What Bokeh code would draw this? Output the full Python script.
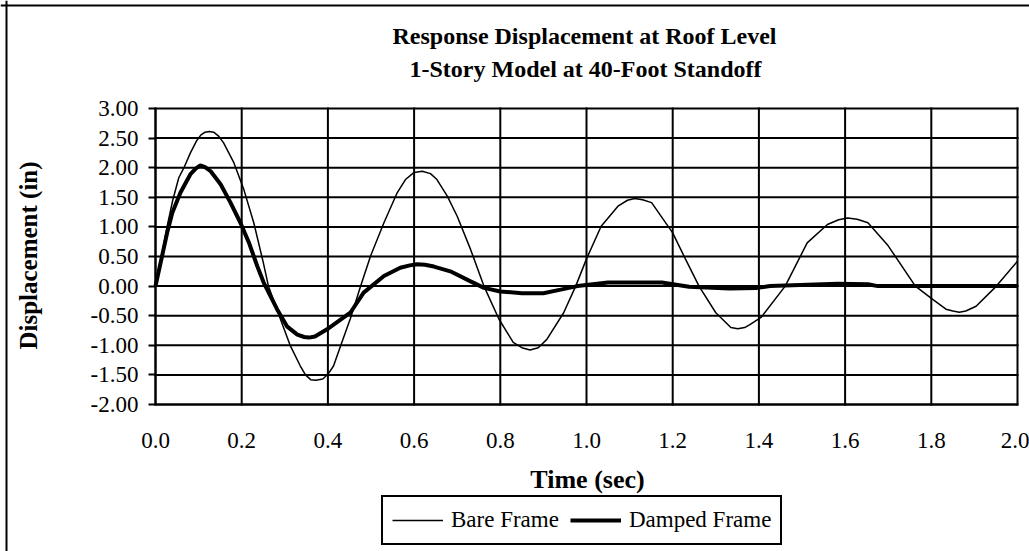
from bokeh.plotting import figure
from bokeh.models import Range1d, FixedTicker, NumeralTickFormatter, Label, Legend, LegendItem, Span
from bokeh.embed import file_html
from bokeh.resources import INLINE

title_line1 = "Response Displacement at Roof Level"
title_line2 = "1-Story Model at 40-Foot Standoff"
x_label = "Time (sec)"
y_label = "Displacement (in)"

x_ticks = [0.0, 0.2, 0.4, 0.6, 0.8, 1.0, 1.2, 1.4, 1.6, 1.8, 2.0]
y_ticks = [-2.0, -1.5, -1.0, -0.5, 0.0, 0.5, 1.0, 1.5, 2.0, 2.5, 3.0]

time_bare = [0.000, 0.015, 0.027, 0.040, 0.054, 0.066, 0.081, 0.095, 0.105, 0.115,
             0.125, 0.135, 0.147, 0.158, 0.182, 0.205, 0.228, 0.250, 0.262, 0.290,
             0.313, 0.336, 0.348, 0.360, 0.372, 0.388, 0.400, 0.413, 0.430, 0.452,
             0.476, 0.499, 0.530, 0.561, 0.580, 0.600, 0.619, 0.638, 0.653, 0.677,
             0.700, 0.731, 0.762, 0.797, 0.830, 0.850, 0.869, 0.888, 0.908, 0.947,
             0.975, 1.000, 1.034, 1.073, 1.095, 1.112, 1.130, 1.151, 1.200, 1.230,
             1.261, 1.300, 1.335, 1.351, 1.367, 1.379, 1.405, 1.461, 1.512, 1.559,
             1.585, 1.606, 1.628, 1.653, 1.700, 1.763, 1.804, 1.834, 1.850, 1.865,
             1.880, 1.904, 1.951, 2.000]
disp_bare = [0.00, 0.55, 1.01, 1.45, 1.83, 2.00, 2.25, 2.45, 2.55, 2.60,
             2.61, 2.60, 2.53, 2.42, 2.08, 1.63, 1.07, 0.40, 0.00, -0.56,
             -1.01, -1.35, -1.50, -1.58, -1.59, -1.57, -1.49, -1.35, -1.00, -0.55,
             0.00, 0.51, 1.07, 1.58, 1.80, 1.92, 1.94, 1.90, 1.80, 1.52,
             1.18, 0.62, 0.00, -0.56, -0.95, -1.04, -1.08, -1.04, -0.90, -0.45,
             0.00, 0.46, 1.01, 1.35, 1.45, 1.48, 1.46, 1.41, 0.90, 0.45,
             0.00, -0.45, -0.70, -0.72, -0.70, -0.65, -0.53, 0.00, 0.73, 1.04,
             1.12, 1.15, 1.13, 1.07, 0.68, 0.00, -0.23, -0.39, -0.42, -0.44,
             -0.42, -0.34, 0.00, 0.42]

time_damped = [0.000, 0.015, 0.027, 0.039, 0.058, 0.081, 0.094, 0.104, 0.115, 0.128,
               0.151, 0.174, 0.197, 0.217, 0.236, 0.251, 0.282, 0.305, 0.329, 0.345,
               0.356, 0.370, 0.398, 0.452, 0.483, 0.530, 0.568, 0.590, 0.607, 0.625,
               0.646, 0.684, 0.731, 0.762, 0.800, 0.850, 0.900, 0.940, 0.979, 1.050,
               1.175, 1.238, 1.332, 1.395, 1.426, 1.583, 1.653, 1.676, 2.000]
disp_damped = [0.00, 0.50, 0.90, 1.24, 1.58, 1.89, 1.99, 2.04, 2.01, 1.94,
               1.72, 1.41, 1.07, 0.73, 0.34, 0.06, -0.39, -0.68, -0.82, -0.86,
               -0.87, -0.85, -0.73, -0.45, -0.11, 0.17, 0.31, 0.35, 0.37, 0.36,
               0.33, 0.25, 0.08, -0.03, -0.09, -0.12, -0.12, -0.06, 0.00, 0.06,
               0.06, -0.01, -0.04, -0.03, 0.00, 0.04, 0.03, 0.00, 0.00]

series_names = ["Bare Frame", "Damped Frame"]

# ---- layout (pixel geometry of the canvas) ----
W, H = 1029, 551
PLOT_LEFT, PLOT_RIGHT, PLOT_TOP, PLOT_BOTTOM = 155, 1017, 108, 404
PPU_X = (PLOT_RIGHT - PLOT_LEFT) / (x_ticks[-1] - x_ticks[0])
PPU_Y = (PLOT_BOTTOM - PLOT_TOP) / (y_ticks[-1] - y_ticks[0])


def px2x(px):
    return x_ticks[0] + (px - PLOT_LEFT) / PPU_X


def py2y(py):
    return y_ticks[-1] - (py - PLOT_TOP) / PPU_Y


SERIF = "Liberation Serif"

p = figure(frame_width=W, frame_height=H,
           min_border_left=0, min_border_right=0, min_border_top=0, min_border_bottom=0,
           x_range=Range1d(px2x(0), px2x(W)), y_range=Range1d(py2y(H), py2y(0)),
           output_backend="svg", toolbar_location=None,
           background_fill_color="white", border_fill_color="white")
p.outline_line_color = None
p.xgrid.visible = False
p.ygrid.visible = False

# plot-area grid (incl. its border), from the tick arrays
nx, ny = len(x_ticks), len(y_ticks)
p.segment(x0=x_ticks, y0=[y_ticks[0]] * nx, x1=x_ticks, y1=[y_ticks[-1]] * nx,
          line_color="black", line_width=2, line_cap="square")
p.segment(x0=[x_ticks[0]] * ny, y0=y_ticks, x1=[x_ticks[-1]] * ny, y1=y_ticks,
          line_color="black", line_width=2, line_cap="square")

# axes fixed inside the canvas
p.xaxis.fixed_location = y_ticks[0]
p.yaxis.fixed_location = x_ticks[0]
p.xaxis.bounds = (x_ticks[0], x_ticks[-1])
p.yaxis.bounds = (y_ticks[0], y_ticks[-1])
p.xaxis.ticker = FixedTicker(ticks=x_ticks)
p.yaxis.ticker = FixedTicker(ticks=y_ticks)
p.xaxis.formatter = NumeralTickFormatter(format="0.0")
p.yaxis.formatter = NumeralTickFormatter(format="0.00")
for ax in (p.xaxis[0], p.yaxis[0]):
    ax.axis_line_color = "black"
    ax.axis_line_width = 2
    ax.major_tick_line_color = "black"
    ax.major_tick_line_width = 2
    ax.minor_tick_line_color = None
    ax.major_label_text_font = SERIF
    ax.major_label_text_font_size = "23px"
    ax.major_label_text_color = "black"
p.xaxis.major_tick_out = 0
p.xaxis.major_tick_in = 0
p.xaxis.major_label_standoff = 28
p.yaxis.major_tick_out = 7
p.yaxis.major_tick_in = 0
p.yaxis.major_label_standoff = 10

r1 = p.line(time_bare, disp_bare, line_color="black", line_width=1.5)
r2 = p.line(time_damped, disp_damped, line_color="black", line_width=4)

bold = dict(text_font=SERIF, text_font_style="bold", text_color="black")
p.add_layout(Label(x=px2x(584), y=py2y(35), text=title_line1, text_align="center",
                   text_baseline="alphabetic", text_font_size="24px", **bold))
p.add_layout(Label(x=px2x(585), y=py2y(68), text=title_line2, text_align="center",
                   text_baseline="alphabetic", text_font_size="24px", **bold))
p.add_layout(Label(x=px2x(587), y=py2y(479), text=x_label, text_align="center",
                   text_baseline="alphabetic", text_font_size="26px", **bold))
p.add_layout(Label(x=px2x(28), y=py2y(255), text=y_label, text_align="center",
                   text_baseline="middle", angle=90, angle_units="deg",
                   text_font_size="25px", **bold))

# outer chart border (left and top edges visible)
p.add_layout(Span(location=px2x(6), dimension="height", line_color="black", line_width=2))
p.add_layout(Span(location=py2y(5), dimension="width", line_color="black", line_width=2))

legend = Legend(items=[LegendItem(label=series_names[0], renderers=[r1]),
                       LegendItem(label=series_names[1], renderers=[r2])],
                orientation="horizontal", location=(381, 6),
                border_line_color="black", border_line_width=2, border_line_alpha=1,
                background_fill_color="white", background_fill_alpha=1,
                label_text_font=SERIF, label_text_font_size="23px",
                label_text_color="black",
                glyph_width=51, glyph_height=28, label_height=28,
                padding=9, spacing=11, label_standoff=8, margin=0)
p.add_layout(legend, "center")

open("out.html", "w").write(file_html(p, INLINE))
